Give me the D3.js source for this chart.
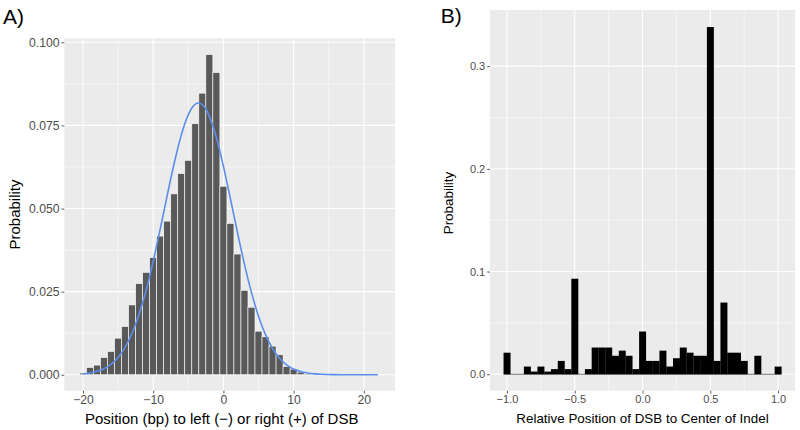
<!DOCTYPE html>
<html><head><meta charset="utf-8">
<script src="https://cdn.jsdelivr.net/npm/d3@7"></script>
<style>body{margin:0;background:#fff}svg{display:block}text{font-family:"Liberation Sans",Arial,Helvetica,sans-serif}</style>
</head><body>
<script>
// Panel A: histogram of positions (binwidth 1)
const aPositions = d3.range(-20, 13);
const aProb = [0.0005,0.0022,0.0029,0.0052,0.0070,0.0110,0.0145,0.0210,0.0274,0.0308,0.0352,0.0417,0.0462,0.0544,0.0605,0.0645,0.0755,0.0847,0.0963,0.0909,
               0.0567,0.0455,0.0363,0.0254,0.0203,0.0131,0.0114,0.0086,0.0060,0.0025,0.0017,0.0008,0.0003];
// Panel A: fitted curve read at integer positions
const aCurveX = d3.range(-20, 23);
const aCurveY = [0.00028,0.00054,0.00102,0.00183,0.00316,0.00521,0.00825,0.01254,0.01826,0.0255,0.03413,0.04382,0.05394,0.06368,0.07207,0.07822,0.0814,0.08123,0.07773,0.07132,
                 0.06274,0.05293,0.04282,0.03321,0.0247,0.01762,0.01205,0.0079,0.00497,0.003,0.00173,0.00096,0.00051,0.00026,0.00013,0.00006,0.00003,0.00001,0,0,0,0,0];
const aXTicks = [-20,-10,0,10,20];
const aYTicks = [0,0.025,0.05,0.075,0.1];
const aYTickLabels = ["0.000","0.025","0.050","0.075","0.100"];

// Panel B: histogram of relative positions (binwidth 0.05)
const bPositions = d3.range(41).map(i => -1 + i*0.05);
const bProb = [0.021,0,0,0.0075,0.0026,0.0075,0.0026,0.005,0.013,0.005,0.093,0,0.005,0.026,0.026,0.026,0.018,0.023,0.018,0.005,
               0.0416,0.013,0.013,0.023,0.0075,0.0156,0.026,0.021,0.018,0.018,0.338,0.013,0.0698,0.021,0.021,0.013,0,0.018,0,0,0.0075];
const bXTicks = [-1,-0.5,0,0.5,1];
const bXTickLabels = ["\u22121.0","\u22120.5","0.0","0.5","1.0"];
const bYTicks = [0,0.1,0.2,0.3];
const bYTickLabels = ["0.0","0.1","0.2","0.3"];

const W = 800, H = 430;
const svg = d3.select("body").append("svg").attr("width", W).attr("height", H);

function panel(cfg) {
  const g = svg.append("g");
  const x = d3.scaleLinear().domain(cfg.xDomain).range([cfg.left, cfg.right]);
  const y = d3.scaleLinear().domain(cfg.yDomain).range([cfg.bottom, cfg.top]);
  g.append("rect").attr("x", cfg.left).attr("y", cfg.top)
    .attr("width", cfg.right - cfg.left).attr("height", cfg.bottom - cfg.top).attr("fill", "#EBEBEB");
  // minor grid
  cfg.xMinor.forEach(v => g.append("line").attr("x1", x(v)).attr("x2", x(v)).attr("y1", cfg.top).attr("y2", cfg.bottom).attr("stroke", "#fff").attr("stroke-width", 0.55));
  cfg.yMinor.forEach(v => g.append("line").attr("y1", y(v)).attr("y2", y(v)).attr("x1", cfg.left).attr("x2", cfg.right).attr("stroke", "#fff").attr("stroke-width", 0.55));
  // major grid
  cfg.xTicks.forEach(v => g.append("line").attr("x1", x(v)).attr("x2", x(v)).attr("y1", cfg.top).attr("y2", cfg.bottom).attr("stroke", "#fff").attr("stroke-width", 1.1));
  cfg.yTicks.forEach(v => g.append("line").attr("y1", y(v)).attr("y2", y(v)).attr("x1", cfg.left).attr("x2", cfg.right).attr("stroke", "#fff").attr("stroke-width", 1.1));
  // axes
  const xAxis = d3.axisBottom(x).tickValues(cfg.xTicks).tickSize(2.8).tickPadding(2).tickFormat((d, i) => cfg.xTickLabels[i]);
  const yAxis = d3.axisLeft(y).tickValues(cfg.yTicks).tickSize(2.8).tickPadding(2).tickFormat((d, i) => cfg.yTickLabels[i]);
  const ax = g.append("g").attr("transform", `translate(0,${cfg.bottom})`).call(xAxis);
  const ay = g.append("g").attr("transform", `translate(${cfg.left},0)`).call(yAxis);
  [ax, ay].forEach(a => {
    a.select(".domain").remove();
    a.selectAll(".tick line").attr("stroke", "#333").attr("stroke-width", 0.8);
    a.selectAll(".tick text").attr("fill", "#4D4D4D").style("font-size", cfg.tickFont + "px")
      .style("font-family", '"Liberation Sans",Arial,Helvetica,sans-serif');
  });
  return {g, x, y};
}

// ---------- Panel A ----------
const A = panel({
  left: 64.3, right: 395, top: 38.3, bottom: 390.7,
  xDomain: [-22.66, 24.44], yDomain: [-0.0048, 0.1012],
  xTicks: aXTicks, xTickLabels: ["\u221220","\u221210","0","10","20"],
  yTicks: aYTicks, yTickLabels: aYTickLabels,
  xMinor: [-15,-5,5,15], yMinor: [0.0125,0.0375,0.0625,0.0875],
  tickFont: 12.2
});
A.g.append("g").selectAll("rect").data(aPositions).join("rect")
  .attr("x", d => A.x(d - 0.5)).attr("width", A.x(1) - A.x(0))
  .attr("y", (d, i) => A.y(aProb[i])).attr("height", (d, i) => A.y(0) - A.y(aProb[i]))
  .attr("fill", "#595959").attr("stroke", "#fff").attr("stroke-width", 0.6);
A.g.append("path").datum(aCurveX.map((v, i) => [v, aCurveY[i]]))
  .attr("d", d3.line().x(d => A.x(d[0])).y(d => A.y(d[1])).curve(d3.curveNatural))
  .attr("fill", "none").attr("stroke", "#5B8DEB").attr("stroke-width", 1.6);

svg.append("text").attr("x", 3).attr("y", 23.5).style("font-size", "21px").attr("fill", "#000").text("A)");
svg.append("text").attr("transform", "translate(19.5,214.5) rotate(-90)").attr("text-anchor", "middle")
  .style("font-size", "15px").attr("fill", "#000").text("Probability");
svg.append("text").attr("x", 221.7).attr("y", 424.3).attr("text-anchor", "middle")
  .style("font-size", "15px").attr("fill", "#000").text("Position (bp) to left (\u2212) or right (+) of DSB");

// ---------- Panel B ----------
const B = panel({
  left: 490, right: 795, top: 10, bottom: 390.7,
  xDomain: [-1.125, 1.125], yDomain: [-0.016, 0.3546],
  xTicks: bXTicks, xTickLabels: bXTickLabels,
  yTicks: bYTicks, yTickLabels: bYTickLabels,
  xMinor: [-0.75,-0.25,0.25,0.75], yMinor: [0.05,0.15,0.25],
  tickFont: 11
});
B.g.append("line").attr("x1", B.x(-1.025)).attr("x2", B.x(1.025)).attr("y1", B.y(0)).attr("y2", B.y(0))
  .attr("stroke", "#555").attr("stroke-width", 0.8);
B.g.append("g").selectAll("rect").data(bPositions).join("rect")
  .attr("x", d => B.x(d - 0.025)).attr("width", B.x(0.05) - B.x(0) + 0.2)
  .attr("y", (d, i) => B.y(bProb[i])).attr("height", (d, i) => B.y(0) - B.y(bProb[i]))
  .attr("fill", "#000");

svg.append("text").attr("x", 440.7).attr("y", 23.3).style("font-size", "21px").attr("fill", "#000").text("B)");
svg.append("text").attr("transform", "translate(453,203) rotate(-90)").attr("text-anchor", "middle")
  .style("font-size", "13.4px").attr("fill", "#000").text("Probability");
svg.append("text").attr("x", 642.5).attr("y", 423.3).attr("text-anchor", "middle")
  .style("font-size", "13.4px").attr("fill", "#000").text("Relative Position of DSB to Center of Indel");
</script>
</body></html>
